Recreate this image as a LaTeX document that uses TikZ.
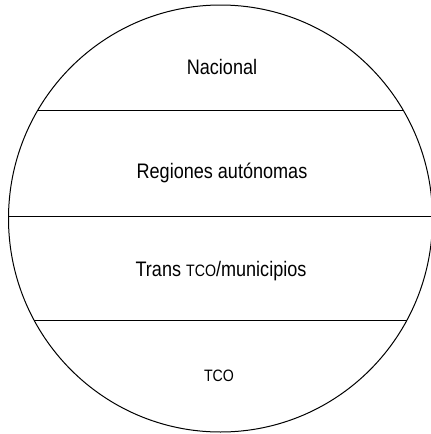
\documentclass[tikz,border=0pt]{standalone}
\usepackage{fontspec}
\setmainfont[FakeStretch=0.86]{Liberation Sans}
\usetikzlibrary{positioning}

\tikzset{
  level/.style={anchor=base,font=\fontsize{21}{24}\selectfont},
  chord/.style={line width=1pt},
}
\newcommand{\tco}{{\fontsize{16.5}{18}\selectfont TCO}}

\begin{document}
\begin{tikzpicture}[x=1pt,y=-1pt]
\useasboundingbox (0,0) rectangle (431,434);

\draw[line width=1pt] (220.5,218.5) ellipse[x radius=212,y radius=213.5];

\coordinate (a1) at (37.9,110);
\coordinate (a2) at (403.1,110);
\coordinate (b1) at (8.5,216);
\coordinate (b2) at (431,216);
\coordinate (c1) at (34.4,320.7);
\coordinate (c2) at (406.6,320.7);

\draw[chord] (a1) -- (a2);
\draw[chord] (b1) -- (b2);
\draw[chord] (c1) -- (c2);

\node[level] (nacional) at (222,74) {Nacional};
\node[level] (regiones) at (222,178) {Regiones autónomas};
\node[level] (trans) at (221,276.7) {Trans \tco/municipios};
\node[level] (tco) at (219,381.5) {\tco};

\end{tikzpicture}
\end{document}
